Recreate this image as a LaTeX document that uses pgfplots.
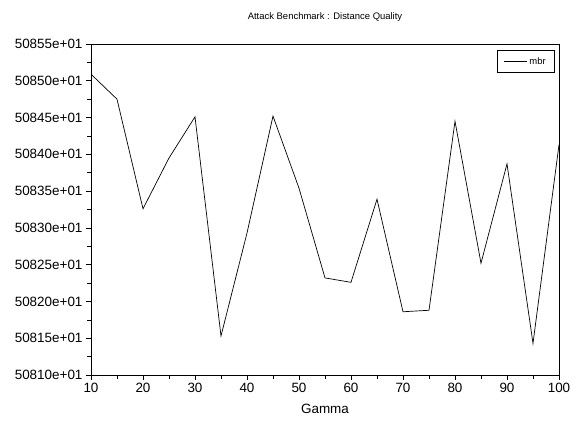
\documentclass[border=0pt]{standalone}
\usepackage{fontspec}
\setmainfont{Liberation Sans}
\usepackage{pgfplots}
\pgfplotsset{compat=1.18}
\begin{document}
\begin{tikzpicture}
\path[use as bounding box] (-91bp,-48bp) rectangle (491bp,375bp);
\begin{axis}[
  at={(0,0)}, anchor=south west,
  scale only axis, width=468bp, height=331bp,
  xmin=10, xmax=100, ymin=508100, ymax=508550,
  xtick={10,20,...,100},
  minor x tick num=1,
  ytick={508100,508150,508200,508250,508300,508350,508400,508450,508500,508550},
  yticklabels={50810e+01,50815e+01,50820e+01,50825e+01,50830e+01,50835e+01,50840e+01,50845e+01,50850e+01,50855e+01},
  scaled y ticks=false,
  minor y tick num=1,
  tick align=outside, xtick pos=bottom, ytick pos=left,
  major tick length=5bp, minor tick length=4bp,
  tick style={black, line width=0.6pt},
  axis line style={line width=0.8pt},
  /pgf/number format/assume math mode=true,
  ticklabel style={font=\fontsize{13.5}{15}\selectfont},
  xlabel={Gamma},
  xlabel style={font=\fontsize{13.5}{15}\selectfont, yshift=-4bp},
  title={Attack Benchmark : Distance Quality},
  title style={font=\fontsize{9.5}{11}\selectfont, yshift=13bp},
  legend style={at={(1,1)}, anchor=north east, xshift=-4bp, yshift=-6bp,
    font=\fontsize{9.5}{11}\selectfont, draw=black, line width=0.6pt,
    inner xsep=7bp, inner ysep=5bp},
  legend cell align=left,
  legend image code/.code={\draw[#1, line width=0.6pt] (0bp,0bp) -- (23bp,0bp);},
]
\addplot[black, line width=0.7pt] coordinates {
(10,508509) (15,508475) (20,508326) (25,508395) (30,508451)
(35,508153) (40,508293) (45,508452) (50,508354) (55,508232)
(60,508226) (65,508339) (70,508186) (75,508188) (80,508445)
(85,508252) (90,508387) (95,508143) (100,508413)
};
\addlegendentry{mbr}
\end{axis}
\end{tikzpicture}
\end{document}
